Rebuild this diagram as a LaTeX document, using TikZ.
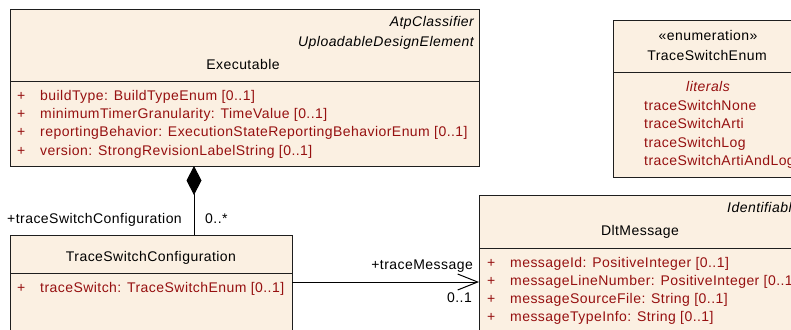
\documentclass[tikz,border=0pt]{standalone}
\usepackage{fontspec}
\setmainfont{Liberation Sans}[LetterSpace=3.2]
\usetikzlibrary{arrows.meta}
\definecolor{boxfill}{RGB}{251,240,226}
\definecolor{attrred}{RGB}{150,16,16}
\definecolor{edge}{RGB}{30,30,30}
\begin{document}
\begin{tikzpicture}[x=1pt,y=-1pt,
  font=\fontsize{14}{16}\selectfont,
  umlbox/.style={draw=edge, line width=1pt, fill=boxfill, anchor=north west, inner sep=0pt, outer sep=0pt},
  sep/.style={draw=edge, line width=1pt},
  lbl/.style={inner sep=0pt, anchor=base west},
  lblr/.style={inner sep=0pt, anchor=base east},
  lblc/.style={inner sep=0pt, anchor=base},
  attr/.style={lbl, text=attrred},
  plus/.style={lbl, text=attrred},
  conn/.style={draw=black, line width=1pt}]
\useasboundingbox (0,0) rectangle (791,329);
\clip (0,0) rectangle (791,329);

% Executable
\node[umlbox, minimum width=469, minimum height=156] (exe) at (10,10) {};
\draw[sep] (10,81) -- (479,81);
\node[lblr] (exe-s1) at (474,27) {\itshape AtpClassifier};
\node[lblr] (exe-s2) at (474,46) {\itshape UploadableDesignElement};
\node[lblc] (exe-name) at (243,69) {Executable};
\foreach \y/\t [count=\i] in {100/{buildType: BuildTypeEnum [0..1]},
  118.3/{minimumTimerGranularity: TimeValue [0..1]},
  136.7/{reportingBehavior: ExecutionStateReportingBehaviorEnum [0..1]},
  155/{version: StrongRevisionLabelString [0..1]}}{
  \node[plus] (exe-p\i) at (17,\y) {+};
  \node[attr] (exe-a\i) at (40,\y) {\t};
}

% TraceSwitchEnum
\node[umlbox, minimum width=188, minimum height=156] (enum) at (613,21) {};
\draw[sep] (613,72) -- (801,72);
\node[lblc] (enum-st) at (708,41) {«enumeration»};
\node[lblc] (enum-name) at (707,60) {TraceSwitchEnum};
\node[lblc, text=attrred] (enum-lit) at (708,91) {\itshape literals};
\foreach \y/\t [count=\i] in {110/traceSwitchNone,128.5/traceSwitchArti,147/traceSwitchLog,165.5/traceSwitchArtiAndLog}{
  \node[attr] (enum-l\i) at (644,\y) {\t};
}

% TraceSwitchConfiguration
\node[umlbox, minimum width=282, minimum height=120] (tsc) at (10,235) {};
\draw[sep] (10,273) -- (292,273);
\node[lblc] (tsc-name) at (151,261) {TraceSwitchConfiguration};
\node[plus] (tsc-p1) at (17,292) {+};
\node[attr] (tsc-a1) at (40,292) {traceSwitch: TraceSwitchEnum [0..1]};

% DltMessage
\node[umlbox, minimum width=322, minimum height=150] (dlt) at (479,195) {};
\draw[sep] (479,248) -- (801,248);
\node[lbl] (dlt-s1) at (727,212) {\itshape Identifiable};
\node[lblc] (dlt-name) at (640,235) {DltMessage};
\foreach \y/\t [count=\i] in {267/{messageId: PositiveInteger [0..1]},
  285/{messageLineNumber: PositiveInteger [0..1]},
  303/{messageSourceFile: String [0..1]},
  321/{messageTypeInfo: String [0..1]}}{
  \node[plus] (dlt-p\i) at (487,\y) {+};
  \node[attr] (dlt-a\i) at (510,\y) {\t};
}

% composition
\coordinate (dtop) at (194,166);
\draw[conn, -{Diamond[length=29pt,width=15pt,fill=black]}] (tsc.north -| dtop) -- (dtop);
\node[lblr] (r1) at (182,223) {+traceSwitchConfiguration};
\node[lbl] (m1) at (205,223) {0..*};

% association
\coordinate (aend) at (479,282);
\draw[conn, -{Straight Barb[length=20pt,width=16pt]}] (tsc.east |- aend) -- (aend);
\node[lblr] (r2) at (473,269) {+traceMessage};
\node[lblr] (m2) at (472,302) {0..1};
\end{tikzpicture}
\end{document}
